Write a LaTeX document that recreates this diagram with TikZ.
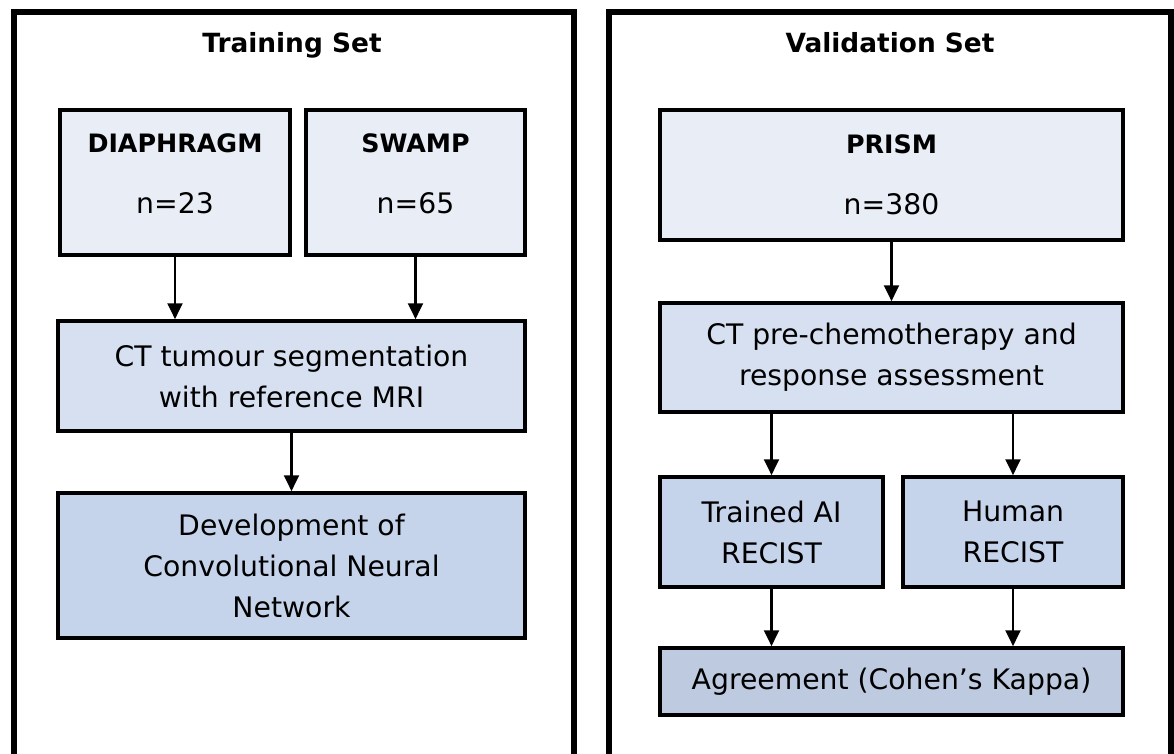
\documentclass[tikz,border=0pt]{standalone}
\usepackage{fontspec}
\setmainfont{DejaVu Sans}
\usetikzlibrary{arrows.meta}
\definecolor{cohortfill}{RGB}{233,237,246}
\definecolor{stepfill}{RGB}{215,224,240}
\definecolor{modelfill}{RGB}{197,211,235}
\definecolor{agreefill}{RGB}{189,202,223}
\newcommand{\boxhead}[1]{{\bfseries\fontsize{19}{30.75}\selectfont #1}}

\begin{document}
\begin{tikzpicture}[x=0.75pt,y=-0.75pt,
  box/.style={draw=black, line width=2.6pt, align=center, inner sep=0pt,
    font=\fontsize{21.2}{30.75}\selectfont},
  flow/.style={line width=2.2pt, -{Triangle[length=12pt,width=11pt]}},
  panel/.style={line width=3.9pt},
  heading/.style={anchor=base, font=\bfseries\fontsize{19.8}{23}\selectfont}]
\clip (0,0) rectangle (1174,753);
\draw[panel] (14,790)--(14,12)--(574,12)--(574,790);
\draw[panel] (609,790)--(609,12)--(1171,12)--(1171,790);
\node[heading] (trainset) at (292,52) {Training Set};
\node[heading] (validset) at (890,52) {Validation Set};

\node[box, fill=cohortfill, minimum width=172.5pt, minimum height=108.75pt, text depth=14pt] (diaphragm) at (175,182.5) {\boxhead{DIAPHRAGM}\\[15pt]n=23};
\node[box, fill=cohortfill, minimum width=164.25pt, minimum height=108.75pt, text depth=14pt] (swamp) at (415.5,182.5) {\boxhead{SWAMP}\\[15pt]n=65};
\node[box, fill=stepfill, minimum width=350.25pt, minimum height=82.5pt] (ctseg) at (291.5,376) {CT tumour segmentation\\with reference MRI};
\node[box, fill=modelfill, minimum width=350.25pt, minimum height=108.75pt] (cnn) at (291.5,565.5) {Development of\\Convolutional Neural\\Network};

\node[box, fill=cohortfill, minimum width=347.25pt, minimum height=97.5pt] (prism) at (891.5,175) {\boxhead{PRISM}\\[15pt]n=380};
\node[box, fill=stepfill, minimum width=347.25pt, minimum height=81.75pt] (ctresp) at (891.5,357.5) {CT pre-chemotherapy and\\response assessment};
\node[box, fill=modelfill, minimum width=167.25pt, minimum height=82.5pt] (airecist) at (771.5,532) {Trained AI\\RECIST};
\node[box, fill=modelfill, minimum width=165pt, minimum height=82.5pt] (humanrecist) at (1013,532) {Human\\RECIST};
\node[box, fill=agreefill, minimum width=347.25pt, minimum height=50.25pt] (kappa) at (891.5,681.5) {Agreement (Cohen’s Kappa)};

\draw[flow] (diaphragm.south) -- (diaphragm.south |- ctseg.north);
\draw[flow] (swamp.south) -- (swamp.south |- ctseg.north);
\draw[flow] (ctseg) -- (cnn);
\draw[flow] (prism) -- (ctresp);
\foreach \r in {airecist,humanrecist} {
  \draw[flow] (ctresp.south -| \r.north) -- (\r.north);
  \draw[flow] (\r.south) -- (\r.south |- kappa.north);
}
\end{tikzpicture}
\end{document}
